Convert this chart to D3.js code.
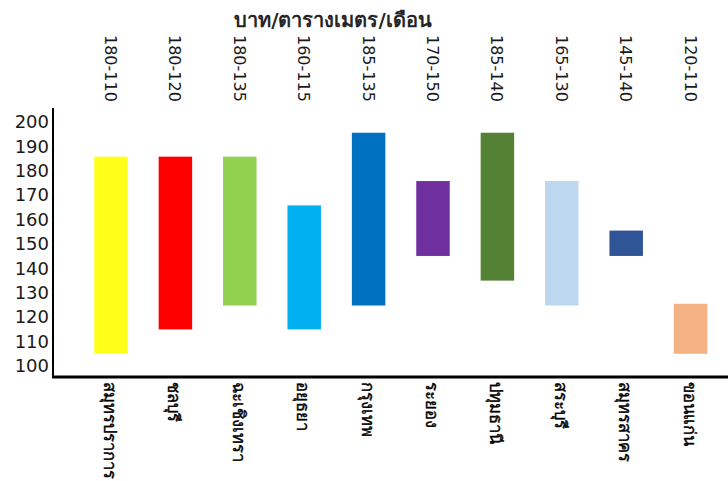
<!DOCTYPE html>
<html>
<head>
<meta charset="utf-8">
<script src="https://cdn.jsdelivr.net/npm/d3@7"></script>
<style>
  body { margin: 0; background: #fff; }
  text { font-family: "DejaVu Sans", Tahoma, sans-serif; }
</style>
</head>
<body>
<div id="vis"></div>
<script>
// Chart data
const provinces = ['สมุทรปราการ', 'ชลบุรี', 'ฉะเชิงเทรา', 'อยุธยา', 'กรุงเทพ',
    'ระยอง', 'ปทุมธานี', 'สระบุรี', 'สมุทรสาคร', 'ขอนแก่น'];
const rangeLabels = ['180-110', '180-120', '180-135', '160-115', '185-135',
    '170-150', '185-140', '165-130', '145-140', '120-110'];
const highValues = [185.8, 185.8, 185.8, 165.8, 195.6, 175.8, 195.6, 175.8, 155.5, 125.5];
const lowValues = [105.2, 115, 124.8, 115, 124.8, 145.1, 135, 124.8, 145.1, 105];
const barColours = ['#ffff19', '#ff0000', '#92d050', '#00b0f0', '#0070c0',
    '#7030a0', '#548235', '#bdd7ee', '#2f5597', '#f4b183'];
const yTicks = [100, 110, 120, 130, 140, 150, 160, 170, 180, 190, 200];
const unitTitle = 'บาท/ตารางเมตร/เดือน';

const width = 728;
const height = 481;

// plot frame
const frame = {
    left: 53,
    top: 108,
    bottom: 377
}

let svg = d3.select('#vis')
    .append('svg')
    .attr('width', width)
    .attr('height', height);

// x scale, one band per province
let xScale = d3.scaleBand()
    .domain(d3.range(provinces.length))
    .range([78.8, 722.8])
    .paddingInner(0.48)
    .paddingOuter(0.24);

// y scale
let yScale = d3.scaleLinear()
    .domain([100, 200])
    .range([366, 122]);

// bars from low to high
svg.selectAll('rect.bar')
    .data(provinces)
    .join('rect')
    .attr('class', 'bar')
    .attr('x', (d, i) => xScale(i))
    .attr('width', xScale.bandwidth())
    .attr('y', (d, i) => yScale(highValues[i]))
    .attr('height', (d, i) => yScale(lowValues[i]) - yScale(highValues[i]))
    .attr('fill', (d, i) => barColours[i]);

// y axis labels
let yaxis = d3.axisLeft(yScale)
    .tickValues(yTicks)
    .tickSize(0)
    .tickPadding(4);

let yG = svg.append('g')
    .attr('class', 'y axis')
    .attr('transform', `translate(${frame.left},0)`)
    .call(yaxis);
yG.select('.domain').remove();
yG.selectAll('text')
    .attr('font-size', '18px')
    .attr('fill', '#1a1a1a')
    .style('font-family', '"DejaVu Sans", Tahoma, sans-serif');

// axis lines
svg.append('line')
    .attr('x1', frame.left).attr('x2', frame.left)
    .attr('y1', frame.top).attr('y2', frame.bottom + 1)
    .attr('stroke', '#000')
    .attr('stroke-width', 2);

svg.append('line')
    .attr('x1', frame.left - 1).attr('x2', width)
    .attr('y1', frame.bottom).attr('y2', frame.bottom)
    .attr('stroke', '#000')
    .attr('stroke-width', 3);

// range labels along the top
svg.selectAll('.rangeLabel')
    .data(rangeLabels)
    .join('text')
    .attr('class', 'rangeLabel')
    .attr('transform', (d, i) => `translate(${xScale(i) + xScale.bandwidth() / 2 - 6},35) rotate(90)`)
    .attr('font-size', '16px')
    .attr('fill', '#1a1a1a')
    .text(d => d);

// province names along the bottom
svg.selectAll('.provLabel')
    .data(provinces)
    .join('text')
    .attr('class', 'provLabel')
    .attr('transform', (d, i) => `translate(${xScale(i) + xScale.bandwidth() / 2 - 7},382) rotate(90)`)
    .attr('font-size', '16.5px')
    .attr('fill', '#000')
    .attr('stroke', '#000')
    .attr('stroke-width', 0.4)
    .text(d => d);

// unit title
svg.append('text')
    .attr('x', 333)
    .attr('y', 27)
    .attr('text-anchor', 'middle')
    .attr('font-size', '20px')
    .attr('font-weight', 'bold')
    .attr('fill', '#262626')
    .text(unitTitle);
</script>
</body>
</html>
